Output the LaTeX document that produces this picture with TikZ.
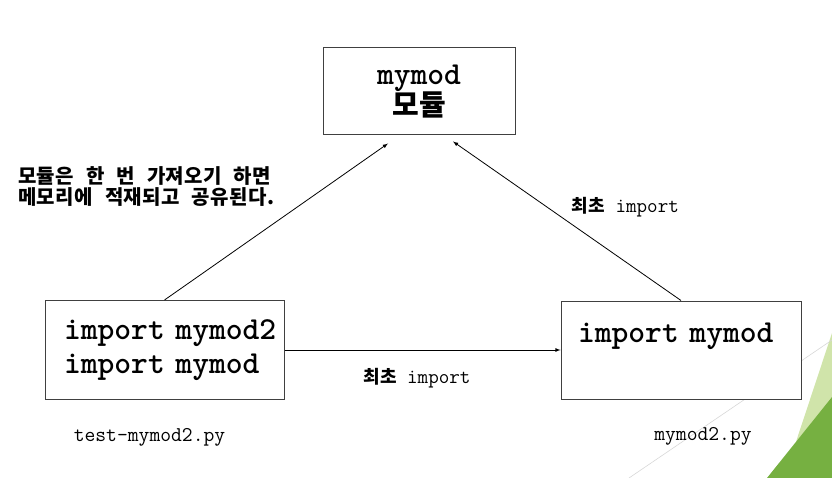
\documentclass[tikz,border=0pt]{standalone}
\usepackage{fontspec}
\usepackage{tikz}
\usetikzlibrary{positioning,arrows,calc}
\newfontfamily\kr{Noto Sans CJK KR}
\newfontfamily\krwide[LetterSpace=2]{Noto Sans CJK KR}
\definecolor{leafdark}{RGB}{118,176,65}
\definecolor{leaflight}{RGB}{208,228,170}
\definecolor{leafline}{RGB}{215,215,215}

\begin{document}
\begin{tikzpicture}[>=latex,x=1pt,y=-1pt,
  box/.style={draw=black!75,line width=1pt,fill=white},
  code/.style={font=\ttfamily\bfseries\fontsize{32}{34}\selectfont},
  lbl/.style={font=\ttfamily\fontsize{20.5}{24}\selectfont,inner sep=0pt},
  file/.style={font=\ttfamily\fontsize{21}{24}\selectfont,inner sep=0pt}]
\useasboundingbox (0,0) rectangle (832,478);
\fill[leaflight] (832,333) -- (784,478) -- (832,478) -- cycle;
\fill[leafdark] (832,397) -- (767,478) -- (832,478) -- cycle;
\draw[leafline,line width=0.6pt] (629,478) -- (832,340);
\node[box,minimum width=192pt,minimum height=87pt,align=center] (mymod) at (419,91.5)
  {{\ttfamily\bfseries\fontsize{32}{34}\selectfont mymod}\\[-1pt]{\kr\bfseries\fontsize{29}{30}\selectfont 모듈}};
\node[box,code,inner xsep=19pt,inner ysep=0pt,text width=201pt,minimum height=99pt,align=left] (test) at (164.5,350)
  {import~mymod2\\import~mymod};
\node[box,code,inner xsep=17pt,inner ysep=0pt,text width=206pt,minimum height=98pt,align=left] (mymodtwo) at (681,350)
  {import~mymod\\\mbox{}};
\coordinate (inl) at ([xshift=-31pt,yshift=-8pt]mymod.south);
\coordinate (inr) at ([xshift=34pt,yshift=-6pt]mymod.south);
\draw[->,line width=0.8pt] (test) -- node[lbl,pos=0.48,below=18pt]{{\kr\bfseries\fontsize{18}{20}\selectfont 최초} import} (mymodtwo);
\draw[->,line width=0.8pt] (test.north) -- (inl);
\draw[->,line width=0.8pt] (mymodtwo.north) -- node[lbl,pos=0.59,right=25pt]{{\kr\bfseries\fontsize{18}{20}\selectfont 최초} import} (inr);
\node[font={\krwide\bfseries\fontsize{20}{21}\selectfont\spaceskip=12pt},inner sep=0pt,align=left,anchor=west] (note) at (18,186.5)
  {모듈은 한 번 가져오기 하면\\메모리에 적재되고 공유된다.};
\node[file,below=28pt of test,xshift=-15pt] (testfile) {test-mymod2.py};
\node[file,below=28pt of mymodtwo,xshift=22pt] (modfile) {mymod2.py};
\end{tikzpicture}
\end{document}
